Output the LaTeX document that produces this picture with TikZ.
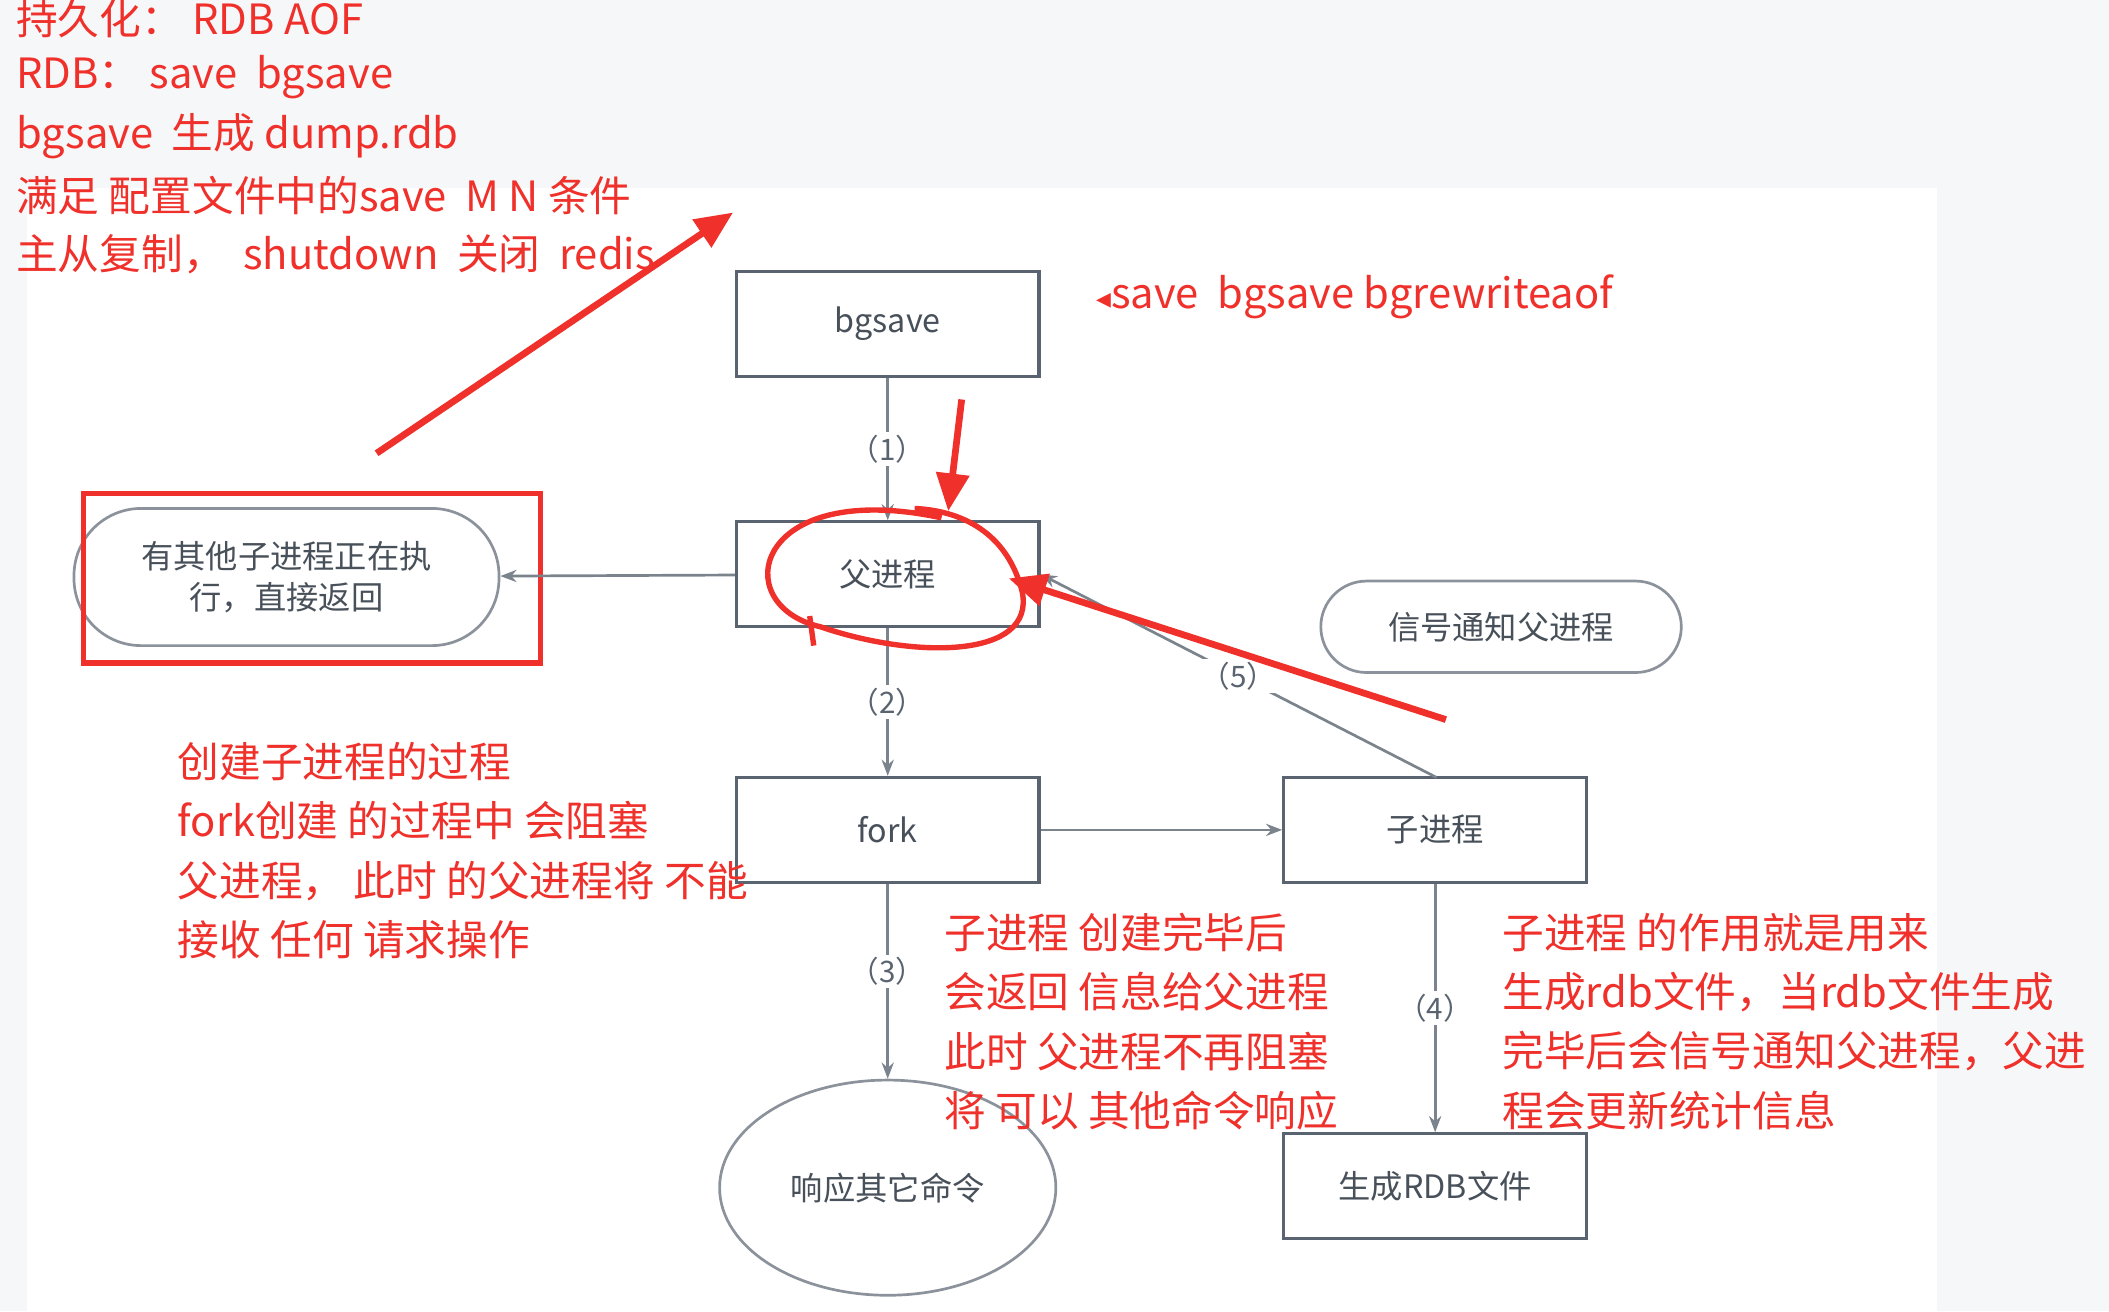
\documentclass[tikz,border=0pt]{standalone}
\usepackage{fontspec}
\newfontfamily\cjk{Noto Sans CJK SC}
\newfontfamily\djsym{DejaVu Sans}
\usetikzlibrary{arrows.meta,shapes.geometric}
\definecolor{rd}{HTML}{F0302A}
\definecolor{gl}{HTML}{5A6470}
\definecolor{bgc}{HTML}{F6F7F9}
\tikzset{
 box/.style={draw=gl,line width=1.2pt,fill=white,minimum width=112.5pt,minimum height=39pt,font=\cjk\fontsize{12}{14}\selectfont,text=gl!80!black},
 rbox/.style={draw=gl!70,line width=1pt,rounded corners=25pt,font=\cjk\fontsize{12}{15}\selectfont,text=gl!80!black,align=center},
 ga/.style={draw=gl!80,line width=1pt,-{Stealth[length=6pt]}},
 gn/.style={font=\cjk\fontsize{11}{13}\selectfont,text=gl,fill=white,inner sep=1pt},
 rt/.style={font=\cjk\fontsize{15.5}{22}\selectfont,text=rd,anchor=west,align=left},
 ra/.style={draw=rd,line width=2.5pt,-{Triangle[length=14pt,width=12pt]}}
}
\begin{document}
\begin{tikzpicture}[x=0.5pt,y=-0.5pt]
\useasboundingbox (0,0) rectangle (1568,975);
\fill[bgc] (0,0) rectangle (1568,975);
\fill[white] (20,140) rectangle (1440,975);
% red text top
\node[rt] (t1) at (5,14) {持久化： RDB AOF};
\node[rt] (t2) at (5,57) {RDB： save\ \ bgsave};
\node[rt] (t3) at (5,101) {bgsave\ \ 生成 dump.rdb};
\node[rt] (t4) at (5,145) {满足 配置文件中的save\ \ M N 条件};
\node[rt] (t5) at (5,189) {主从复制， \ shutdown\ \ 关闭\ \ redis};
% boxes
\node[box] (bg) at (660,241) {bgsave};
\node[box] (par) at (660,427) {父进程};
\node[box] (fork) at (660,617) {fork};
\node[box] (child) at (1067,617) {子进程};
\node[box] (rdb) at (1067,882) {生成RDB文件};
\node[ellipse,draw=gl!70,line width=1pt,minimum width=125pt,minimum height=80pt,font=\cjk\fontsize{12}{14}\selectfont,text=gl!80!black] (resp) at (660,883) {响应其它命令};
\node[rbox,minimum width=158pt,minimum height=51pt] (busy) at (213,429) {有其他子进程正在执\\行，直接返回};
\node[rbox,minimum width=134pt,minimum height=34pt,rounded corners=17pt] (sig) at (1116,466) {信号通知父进程};
\node[draw=rd,line width=2pt,minimum width=170pt,minimum height=63pt] (rr) at (232,430) {};
% gray arrows
\draw[ga] (bg) -- node[gn]{（1）} (par);
\draw[ga] (par) -- node[gn]{（2）} (fork);
\draw[ga] (fork) -- node[gn,pos=0.45]{（3）} (resp);
\draw[ga] (child) -- node[gn,pos=0.5]{（4）} (rdb);
\draw[ga] (fork) -- (child);
\draw[ga] (par) -- (busy);
\coordinate (ct) at (1068,578);
\draw[ga] (ct) -- node[gn,pos=0.5]{（5）} (par.east);
% red annotations
\node[rt,font=\fontsize{15.5}{18}\selectfont] (sv) at (808,221) {{\djsym\fontsize{11}{12}\selectfont ◂}\cjk save\ \ bgsave bgrewriteaof};
\coordinate (a1s) at (280,337); \coordinate (a1e) at (545,158);
\draw[ra] (a1s) -- (a1e);
\coordinate (a2s) at (715,297); \coordinate (a2e) at (705,380);
\draw[ra] (a2s) -- (a2e);
\coordinate (a3s) at (1075,535); \coordinate (a3e) at (750,430);
\draw[ra] (a3s) -- (a3e);
\draw[rd,line width=2pt] (700,385) .. controls (560,355) and (540,450) .. (610,466) .. controls (680,490) and (770,490) .. (760,440) .. controls (750,400) and (720,380) .. (680,378);
\draw[rd,line width=2pt] (602,458) -- (605,480);
\node[rt,anchor=north west] (b1) at (125,545) {创建子进程的过程\\fork创建 的过程中 会阻塞\\父进程， 此时 的父进程将 不能\\接收 任何 请求操作};
\node[rt,anchor=north west] (b2) at (695,672) {子进程 创建完毕后\\会返回 信息给父进程\\此时 父进程不再阻塞\\将 可以 其他命令响应};
\node[rt,anchor=north west] (b3) at (1110,672) {子进程 的作用就是用来\\生成rdb文件，当rdb文件生成\\完毕后会信号通知父进程，父进\\程会更新统计信息};
\end{tikzpicture}
\end{document}
